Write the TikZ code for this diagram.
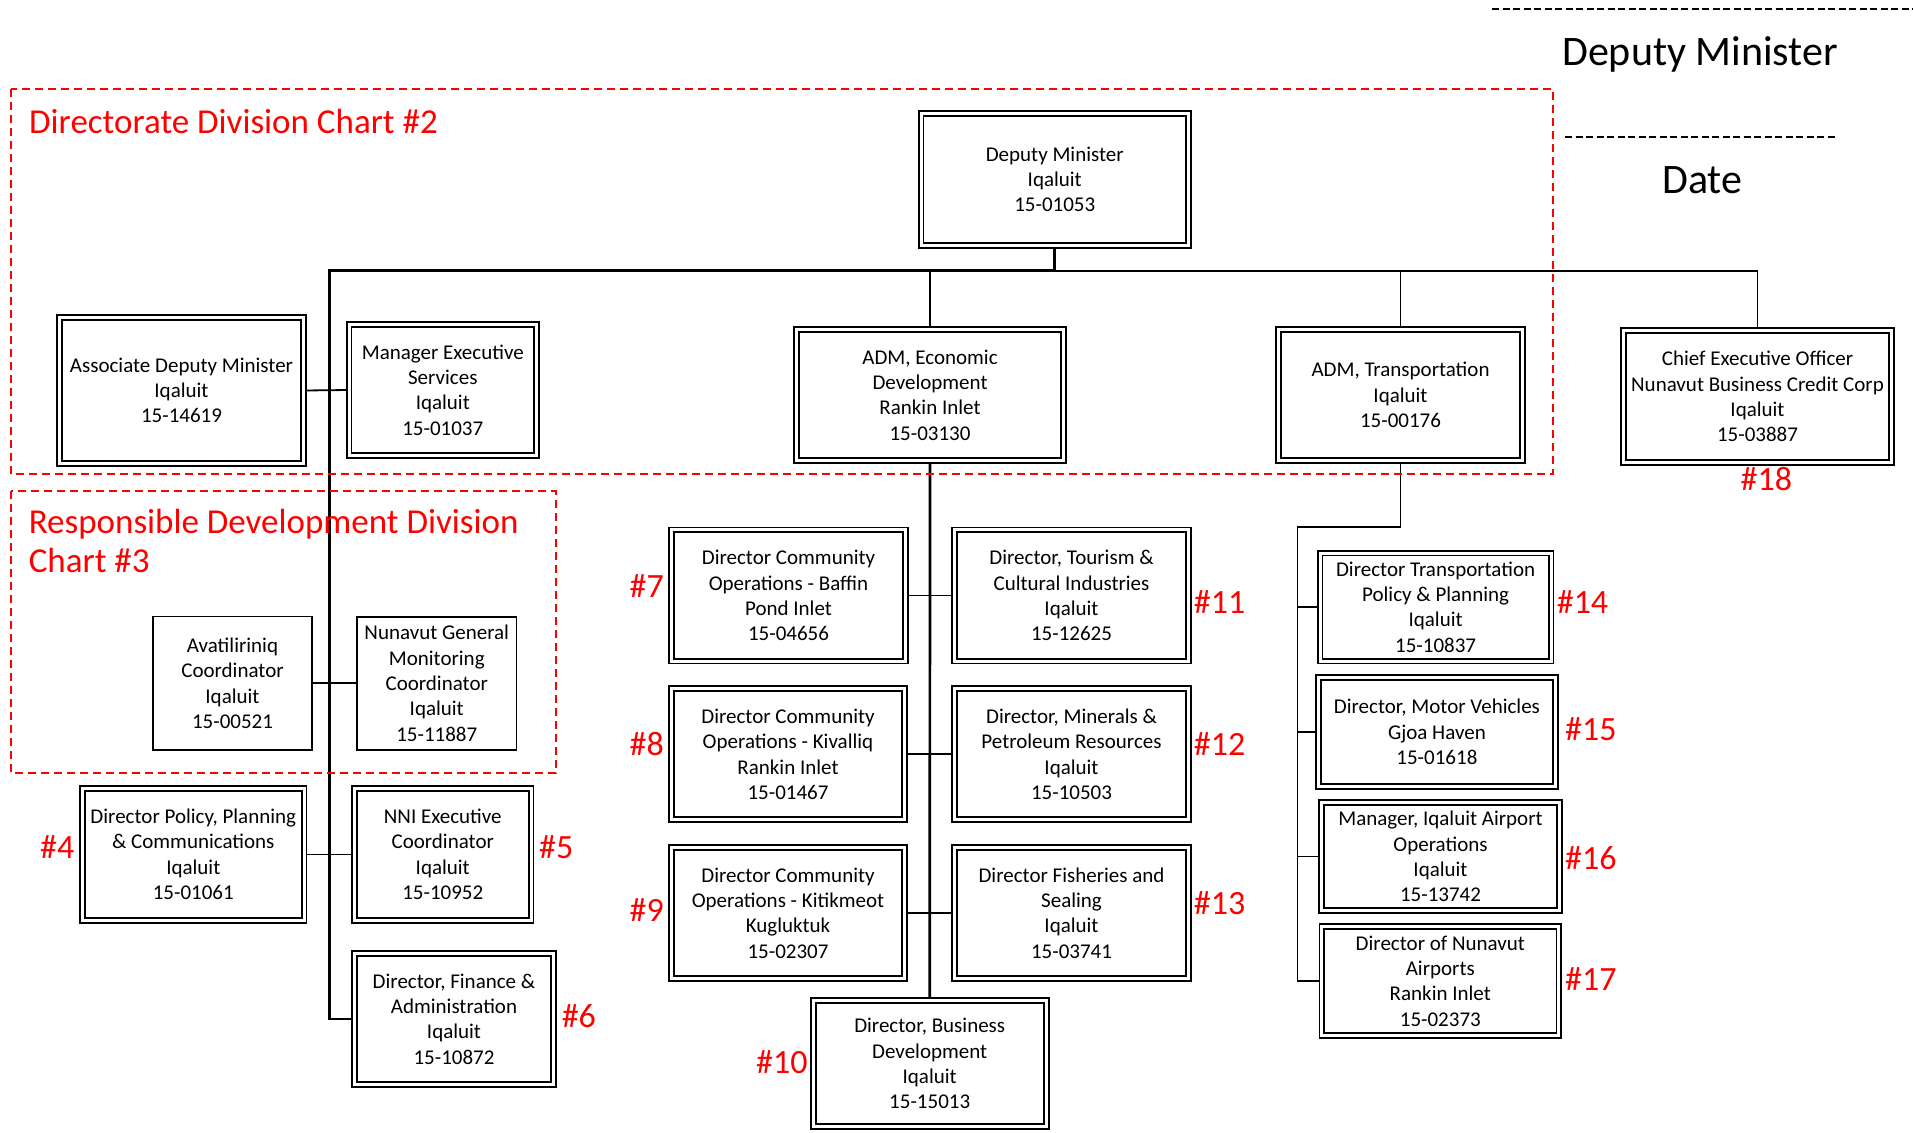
\documentclass[tikz,border=0pt]{standalone}
\usepackage{fontspec}
\setmainfont{Carlito}
\usetikzlibrary{backgrounds}
\begin{document}
\begin{tikzpicture}[x=1pt,y=-1pt,
  box/.style={draw, line width=1.8pt, double, double distance=3pt, inner sep=0pt, align=center, font=\fontsize{21}{25.3}\selectfont},
  sbox/.style={draw, line width=1.6pt, inner sep=0pt, align=center, font=\fontsize{21}{25.3}\selectfont},
  lab/.style={text=red, font=\fontsize{34}{40}\selectfont, anchor=base west, inner sep=0pt},
  grp/.style={draw=red, line width=1.8pt, dash pattern=on 8pt off 5pt},
  conn/.style={line width=1.8pt},
  busline/.style={line width=2.7pt},
  sig/.style={line width=2pt, dash pattern=on 7pt off 3.5pt},
  big/.style={font=\fontsize{42}{50}\selectfont, anchor=base west, inner sep=0pt},
  ttl/.style={text=red, font=\fontsize{35}{42}\selectfont, anchor=base west, inner sep=0pt}
]
\useasboundingbox (0,0) rectangle (1913,1132);

% signature area
\coordinate (s1a) at (1492,9.3); \coordinate (s1b) at (1913,9.3);
\coordinate (s2a) at (1565,137); \coordinate (s2b) at (1837,137);
\draw[sig] (s1a) -- (s1b);
\draw[sig] (s2a) -- (s2b);
\node[big] (sigdm) at (1562,66) {Deputy Minister};
\node[big] (sigdate) at (1662,193) {Date};

% group frames
\draw[grp] (11,89) rectangle (1553,474);
\draw[grp] (11,491.3) rectangle (556,772.9);
\node[ttl] (t2) at (29,133) {Directorate Division Chart \#2};
\node[ttl] (t3a) at (28.6,533.7) {Responsible Development Division};
\node[ttl] (t3b) at (28.6,572.3) {Chart \#3};

% boxes
\node[box, minimum width=267.5pt, minimum height=132pt] (dm) at (1054.75,179.5) {Deputy Minister\\Iqaluit\\15-01053};
\node[box, minimum width=244pt, minimum height=146pt] (adm) at (181.5,390.5) {Associate Deputy Minister\\Iqaluit\\15-14619};
\node[box, minimum width=187.4pt, minimum height=131pt] (mgr) at (442.8,390) {Manager Executive\\Services\\Iqaluit\\15-01037};
\node[box, minimum width=267pt, minimum height=131pt] (econ) at (930,395) {ADM, Economic\\Development\\Rankin Inlet\\15-03130};
\node[box, minimum width=244pt, minimum height=131pt] (trans) at (1400.5,395) {ADM, Transportation\\Iqaluit\\15-00176};
\node[box, minimum width=268pt, minimum height=132pt] (ceo) at (1757.5,396.5) {Chief Executive Officer\\Nunavut Business Credit Corp\\Iqaluit\\15-03887};

\node[sbox, minimum width=159pt, minimum height=133.7pt] (avat) at (232.5,683.3) {Avatiliriniq\\Coordinator\\Iqaluit\\15-00521};
\node[sbox, minimum width=159.5pt, minimum height=133pt] (nung) at (436.75,683.3) {Nunavut General\\Monitoring\\Coordinator\\Iqaluit\\15-11887};

\node[box, minimum width=221.7pt, minimum height=132pt] (pol) at (193.3,854.4) {Director Policy, Planning\\\& Communications\\Iqaluit\\15-01061};
\node[box, minimum width=176.5pt, minimum height=132pt] (nni) at (442.75,854.4) {NNI Executive\\Coordinator\\Iqaluit\\15-10952};
\node[box, minimum width=199pt, minimum height=131.3pt] (fin) at (454,1019) {Director, Finance \&\\Administration\\Iqaluit\\15-10872};

\node[box, minimum width=234pt, minimum height=131.3pt] (b7) at (788.5,595.5) {Director Community\\Operations - Baffin\\Pond Inlet\\15-04656};
\node[box, minimum width=233pt, minimum height=131pt] (b8) at (788,754.2) {Director Community\\Operations - Kivalliq\\Rankin Inlet\\15-01467};
\node[box, minimum width=233pt, minimum height=131pt] (b9) at (788,912.9) {Director Community\\Operations - Kitikmeot\\Kugluktuk\\15-02307};
\node[box, minimum width=233pt, minimum height=126pt] (b10) at (929.7,1063.5) {Director, Business\\Development\\Iqaluit\\15-15013};
\node[box, minimum width=234pt, minimum height=131.3pt] (b11) at (1071.5,595.5) {Director, Tourism \&\\Cultural Industries\\Iqaluit\\15-12625};
\node[box, minimum width=234pt, minimum height=131pt] (b12) at (1071.5,754.2) {Director, Minerals \&\\Petroleum Resources\\Iqaluit\\15-10503};
\node[box, minimum width=234pt, minimum height=131pt] (b13) at (1071.5,912.9) {Director Fisheries and\\Sealing\\Iqaluit\\15-03741};

\node[box, minimum width=231pt, minimum height=108pt] (b14) at (1435.6,607) {Director Transportation\\Policy \& Planning\\Iqaluit\\15-10837};
\node[box, minimum width=236.8pt, minimum height=108.6pt] (b15) at (1436.9,732) {Director, Motor Vehicles\\Gjoa Haven\\15-01618};
\node[box, minimum width=238pt, minimum height=108pt] (b16) at (1440.5,856.5) {Manager, Iqaluit Airport\\Operations\\Iqaluit\\15-13742};
\node[box, minimum width=237pt, minimum height=108.6pt] (b17) at (1440.3,981) {Director of Nunavut\\Airports\\Rankin Inlet\\15-02373};

% labels
\node[lab] (l4) at (40,858.6) {\#4};
\node[lab] (l5) at (539,858.6) {\#5};
\node[lab] (l6) at (561.6,1027) {\#6};
\node[lab] (l7) at (629.5,597) {\#7};
\node[lab] (l8) at (629.5,755.8) {\#8};
\node[lab] (l9) at (629.5,921.6) {\#9};
\node[lab] (l10) at (756,1073.8) {\#10};
\node[lab] (l11) at (1193.7,613) {\#11};
\node[lab] (l12) at (1193.7,755.8) {\#12};
\node[lab] (l13) at (1193.7,914.3) {\#13};
\node[lab] (l14) at (1556.6,613) {\#14};
\node[lab] (l15) at (1565,740.8) {\#15};
\node[lab] (l16) at (1565,869.8) {\#16};
\node[lab] (l17) at (1565,990.2) {\#17};
\node[lab] (l18) at (1740.5,490.9) {\#18};

\coordinate (busL) at (329.5,270.7);
\coordinate (tc) at (1297.4,527.3);

\begin{scope}[on background layer]
  \draw[conn] (ceo.north) |- (dm.south |- busL);
  \draw[busline] (dm.south) -- (dm.south |- busL) -- (busL) -- (busL |- fin.west) -- (fin.west);
  \draw[conn] (econ.north) -- (econ.north |- busL);
  \draw[conn] (trans.north) -- (trans.north |- busL);
  \draw[conn] (adm.east) -- (mgr.west);
  \draw[conn] (avat.east) -- (nung.west);
  \draw[conn] (pol.east) -- (nni.west);
  \draw[busline] (econ.south) -- (b10.north);
  \draw[conn] (b7.east) -- (b11.west);
  \draw[conn] (b8.east) -- (b12.west);
  \draw[conn] (b9.east) -- (b13.west);
  \draw[conn] (trans.south) |- (tc) |- (b17.west);
  \draw[conn] (b14.west) -- (b14.west -| tc);
  \draw[conn] (b15.west) -- (b15.west -| tc);
  \draw[conn] (b16.west) -- (b16.west -| tc);
\end{scope}
\end{tikzpicture}
\end{document}
